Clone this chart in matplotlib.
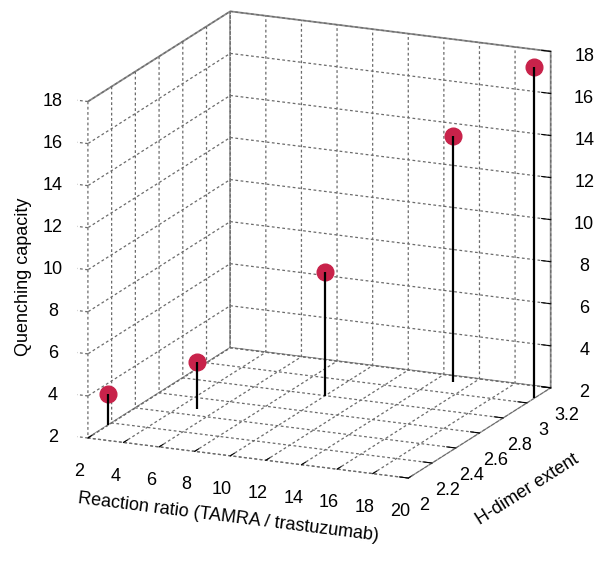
import matplotlib
matplotlib.use('Agg')
import matplotlib.pyplot as plt
import matplotlib.transforms as mtransforms
import numpy as np
from mpl_toolkits.mplot3d import proj3d

# ---- data ----
reaction_ratio = [2, 5, 10, 15, 20]
hdimer_extent = [2.17, 2.47, 2.80, 3.13, 3.06]
quenching_capacity = [3.5, 4.25, 7.9, 13.7, 17.75]

x_ticks = [2, 4, 6, 8, 10, 12, 14, 16, 18, 20]
x_tick_labels = ['2', '4', '6', '8', '10', '12', '14', '16', '18', '20']
y_ticks = [2.0, 2.2, 2.4, 2.6, 2.8, 3.0, 3.2]
y_tick_labels = ['2', '2.2', '2.4', '2.6', '2.8', '3', '3.2']
z_ticks = [2, 4, 6, 8, 10, 12, 14, 16, 18]
z_tick_labels = ['2', '4', '6', '8', '10', '12', '14', '16', '18']

x_label = 'Reaction ratio (TAMRA / trastuzumab)'
y_label = 'H-dimer extent'
z_label = 'Quenching capacity'

# ---- style ----
plt.rcParams['font.family'] = ['Liberation Sans', 'DejaVu Sans']
plt.rcParams['font.size'] = 13
GRID_COL = (0.42, 0.42, 0.42)
EDGE_COL = (0.55, 0.55, 0.55)
MARKER_COL = '#C8224A'
DOT = (0, (2.2, 2.0))

W, H = 601, 564
fig = plt.figure(figsize=(W / 100, H / 100), dpi=100)
ax = fig.add_axes([0.1, 0.1, 0.8, 0.8], projection='3d')
ax.set_proj_type('ortho')
ax.view_init(elev=16.35, azim=-66.05)
ax.set_box_aspect((1, 1, 1))

ax.set_xlim(2, 20)
ax.set_ylim(2, 3.2)
ax.set_zlim(2, 18)
ax.set_xticks(x_ticks)
ax.set_xticklabels(x_tick_labels)
ax.set_yticks(y_ticks)
ax.set_yticklabels(y_tick_labels)
ax.set_zticks(z_ticks)
ax.set_zticklabels(z_tick_labels)

for axis in (ax.xaxis, ax.yaxis, ax.zaxis):
    axis._axinfo['grid'].update(color=GRID_COL, linewidth=0.9, linestyle=DOT)
    axis._axinfo['tick'].update(inward_factor=0.0, outward_factor=0.35)
    axis._axinfo['tick']['color'] = GRID_COL
    axis.pane.set_facecolor('white')
    axis.pane.set_edgecolor(EDGE_COL)
    axis.pane.set_alpha(1)
    axis.pane.set_linewidth(1.3)
    axis.line.set_color(GRID_COL)
    axis.line.set_linestyle(DOT)
    axis.line.set_linewidth(0.9)
    for t in axis.get_major_ticks():
        t.tick1line.set_linestyle(DOT)
        t.tick1line.set_color(GRID_COL)
ax.zaxis.pane.set_edgecolor('none')
ax.zaxis.line.set_visible(False)
ax.zaxis.set_label_position('lower')
ax.tick_params(axis='x', labelsize=13, colors='black', pad=5)
ax.tick_params(axis='y', labelsize=13, colors='black', pad=3)
ax.tick_params(axis='z', labelsize=13, colors='black', pad=8)

ax.set_xlabel(x_label, fontsize=13, labelpad=10)
ax.set_ylabel(y_label, fontsize=13, labelpad=12)
ax.set_zlabel(z_label, fontsize=13, labelpad=10)

# ---- z tick marks on the front-left edge (x=2, y=2) ----
for zt in z_ticks:
    ax.plot([2, 1.4], [2, 2], [zt, zt], color=GRID_COL, lw=0.9, linestyle=DOT)

# ---- stems ----
markerline, stemlines, baseline = ax.stem(
    reaction_ratio, hdimer_extent, quenching_capacity,
    linefmt='k-', markerfmt='o', basefmt='k-', bottom=2)
baseline.set_visible(False)
stemlines.set_linewidth(1.6)
stemlines.set_color('black')
markerline.set_markersize(12)
markerline.set_markerfacecolor(MARKER_COL)
markerline.set_markeredgecolor(MARKER_COL)

ax.set_xlim(2, 20)
ax.set_ylim(2, 3.2)
ax.set_zlim(2, 18)
ax.grid(True)

# ---- fit the box to the reference layout ----
fig.canvas.draw()
corners = np.array([[2, 2, 2], [2, 3.2, 2], [20, 3.2, 2], [20, 2, 2],
                    [2, 2, 18], [2, 3.2, 18], [20, 3.2, 18]], float)
target = np.array([[88, 438], [230, 348], [551, 387], [408, 478],
                   [88, 103], [230, 10], [551, 52]], float)
target[:, 1] = H - target[:, 1]
xs, ys, _ = proj3d.proj_transform(corners[:, 0], corners[:, 1], corners[:, 2], ax.M)
disp = ax.transData.transform(np.column_stack([xs, ys]))
A = []
b = []
for (dx, dy), (tx, ty) in zip(disp, target):
    A.append([1, 0, dx]); b.append(tx)
    A.append([0, 1, dy]); b.append(ty)
sol, *_ = np.linalg.lstsq(np.array(A), np.array(b), rcond=None)
ax_off, ay_off, k = sol
bb = ax.bbox
cx1, cy1 = (bb.x0 + bb.x1) / 2, (bb.y0 + bb.y1) / 2
side1 = min(bb.width, bb.height)
cx2, cy2 = ax_off + k * cx1, ay_off + k * cy1
side2 = k * side1
ax.set_position([(cx2 - side2 / 2) / W, (cy2 - side2 / 2) / H, side2 / W, side2 / H])

# ---- z tick labels on the left edge, placed through the 3D projection ----
fig.canvas.draw()
zt_arr = np.array(z_ticks, float)
lx, ly, _ = proj3d.proj_transform(np.full_like(zt_arr, 2.0), np.full_like(zt_arr, 2.0),
                                  zt_arr, ax.M)
lpix = ax.transData.transform(np.column_stack([lx, ly]))
for (px, py), zl in zip(lpix, z_tick_labels):
    fig.text((px - 35) / W, py / H, zl, fontsize=13, ha='center', va='center')

fig.savefig('out.png', dpi=100, facecolor='white')
